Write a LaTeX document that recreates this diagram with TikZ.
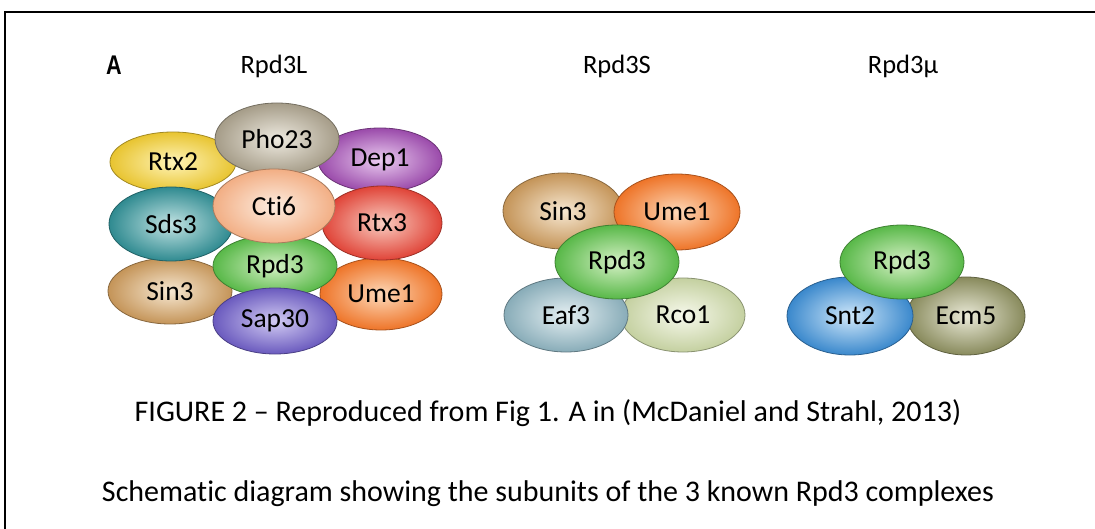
\documentclass[tikz,border=0pt]{standalone}
\usepackage{fontspec}
\setmainfont{Carlito}[Ligatures=NoCommon]
\newfontfamily\boldA{Liberation Sans Bold}
\usetikzlibrary{shapes.geometric}
\definecolor{rtxii}{HTML}{E8C430}\definecolor{rtxiiL}{HTML}{FFF4B8}
\definecolor{pho}{HTML}{A59C88}\definecolor{phoL}{HTML}{EEEAE0}
\definecolor{dep}{HTML}{9A4AAA}\definecolor{depL}{HTML}{EACBF0}
\definecolor{sds}{HTML}{2F8A90}\definecolor{sdsL}{HTML}{C2E3E3}
\definecolor{cti}{HTML}{F2AE84}\definecolor{ctiL}{HTML}{FDEDE0}
\definecolor{rtxiii}{HTML}{E04438}\definecolor{rtxiiiL}{HTML}{F9CCC0}
\definecolor{rpd}{HTML}{58B848}\definecolor{rpdL}{HTML}{D4F0C4}
\definecolor{sin}{HTML}{C49458}\definecolor{sinL}{HTML}{F7E8D2}
\definecolor{ume}{HTML}{EE7428}\definecolor{umeL}{HTML}{FDD8B8}
\definecolor{sap}{HTML}{6A5ABE}\definecolor{sapL}{HTML}{D2CBF3}
\definecolor{eaf}{HTML}{88ACB8}\definecolor{eafL}{HTML}{E6F0F3}
\definecolor{rco}{HTML}{C4D0A0}\definecolor{rcoL}{HTML}{F7F9EC}
\definecolor{snt}{HTML}{3A88CC}\definecolor{sntL}{HTML}{D0E8FA}
\definecolor{ecm}{HTML}{888A5C}\definecolor{ecmL}{HTML}{EAEAD8}
\begin{document}
\begin{tikzpicture}[x=1pt,y=-1pt,
  sub/.style={ellipse, inner sep=0pt, draw=#1!70!black, line width=0.8pt,
    inner color=#1L, outer color=#1, text=black,
    font=\fontsize{27.5}{32}\selectfont},
  sz/.style 2 args={minimum width=#1pt, minimum height=#2pt},
  ttl/.style={font=\fontsize{26.5}{31}\selectfont, inner sep=0pt},
  captxt/.style={font=\fontsize{30}{36}\selectfont, inner sep=0pt}]
\useasboundingbox (0,0) rectangle (1095,529);
\clip (0,0) rectangle (1095,529);
\draw[line width=2pt] (5,12) rectangle (1110,545);
% titles
\node[ttl, font=\boldA\fontsize{27}{32}\selectfont] (lblA) at (114,65) {\scalebox{0.8}[1]{A}};
\node[ttl] (tL) at (274,66) {Rpd3L};
\node[ttl] (tS) at (617,66) {Rpd3S};
\node[ttl] (tM) at (903,66) {Rpd3μ};
% Rpd3L
\node[sub=rtxii, sz={126}{60}] (rtx2) at (173,162) {Rtx2};
\node[sub=dep, sz={124}{64}] (dep1) at (380,160) {Dep1};
\node[sub=pho, sz={124}{72}] (pho23) at (277,139) {Pho23};
\node[sub=sin, sz={124}{66}] (sin3L) at (170,291) {Sin3};
\node[sub=ume, sz={122}{72}] (ume1L) at (381,294) {Ume1};
\node[sub=rtxiii, sz={120}{74}] (rtx3) at (382,223) {Rtx3};
\node[sub=sds, sz={124}{74}] (sds3) at (171,224) {Sds3};
\node[sub=rpd, sz={124}{62}] (rpd3L) at (275,266) {Rpd3};
\node[sub=cti, sz={122}{74}] (cti6) at (274,206) {Cti6};
\node[sub=sap, sz={124}{66}] (sap30) at (275,321) {Sap30};
% Rpd3S
\node[sub=sin, sz={120}{76}] (sin3S) at (563,211) {Sin3};
\node[sub=ume, sz={126}{76}] (ume1S) at (677,212) {Ume1};
\node[sub=rco, sz={124}{74}] (rco1) at (683,315) {Rco1};
\node[sub=eaf, sz={124}{74}] (eaf3) at (566,315) {Eaf3};
\node[sub=rpd, sz={124}{74}] (rpd3S) at (617,262) {Rpd3};
% Rpd3mu
\node[sub=ecm, sz={118}{78}] (ecm5) at (966,316) {Ecm5};
\node[sub=snt, sz={126}{78}] (snt2) at (850,316) {Snt2};
\node[sub=rpd, sz={124}{74}] (rpd3M) at (902,262) {Rpd3};
% captions
\node[captxt] (cap1) at (548,413) {FIGURE 2 – Reproduced from Fig 1. A in (McDaniel and Strahl, 2013)};
\node[captxt] (cap2) at (548,494) {Schematic diagram showing the subunits of the 3 known Rpd3 complexes};
\end{tikzpicture}
\end{document}
